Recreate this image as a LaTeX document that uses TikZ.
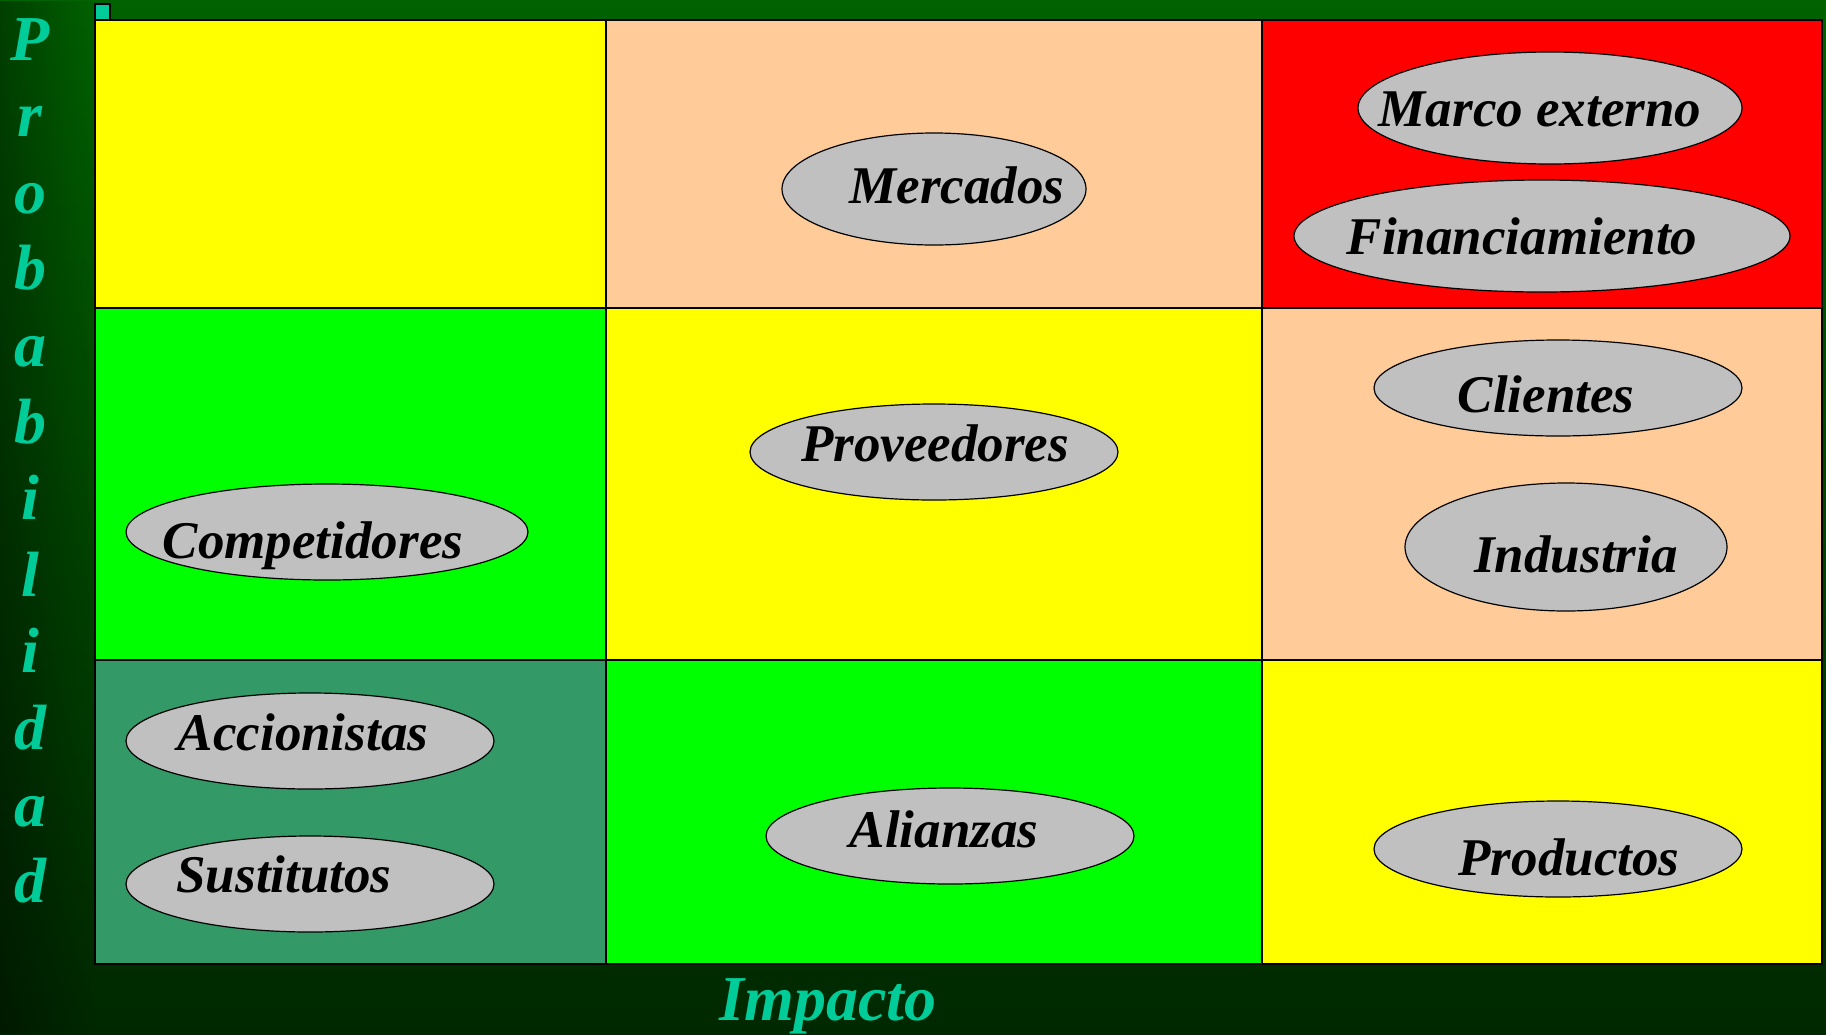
\documentclass[tikz,border=0pt]{standalone}
\usepackage{fontspec}
\setmainfont{Liberation Serif}
\usetikzlibrary{shapes.geometric,fadings}
\definecolor{bgtop}{RGB}{0,98,0}
\definecolor{bgbot}{RGB}{0,40,0}
\definecolor{axisteal}{RGB}{0,204,153}
\definecolor{peach}{RGB}{255,204,153}
\definecolor{seagreen}{RGB}{51,153,102}
\definecolor{riskgray}{RGB}{192,192,192}
\definecolor{riskyellow}{RGB}{255,255,0}
\definecolor{riskgreen}{RGB}{0,255,0}
\definecolor{riskred}{RGB}{255,0,0}
\tikzset{
  cell/.style={draw=black, line width=0.8pt},
  risk/.style={ellipse, draw=black, fill=riskgray, line width=0.6pt, inner sep=0pt},
  risklabel/.style={font=\fontsize{26.5}{30}\selectfont\bfseries\itshape, text height=1.32em, text depth=0pt, inner sep=0pt},
  axislabel/.style={font=\fontsize{32}{36}\selectfont\bfseries\itshape, text=axisteal, inner sep=0pt}
}
\begin{document}
\begin{tikzpicture}[x=0.5pt, y=-0.5pt]
  \useasboundingbox (0,0) rectangle (1826,1034);
  % background
  \shade[top color=bgtop, bottom color=bgbot] (0,0) rectangle (1826,1034);
  \fill[black, opacity=0.35, path fading=east] (0,0) rectangle (95,1034);
  \draw[fill=axisteal, line width=0.8pt] (95,4) rectangle (110,20);
  % matrix cells
  \fill[cell, fill=riskyellow] (95,20) rectangle (606,308);
  \fill[cell, fill=peach] (606,20) rectangle (1262,308);
  \fill[cell, fill=riskred] (1262,20) rectangle (1822,308);
  \fill[cell, fill=riskgreen] (95,308) rectangle (606,660);
  \fill[cell, fill=riskyellow] (606,308) rectangle (1262,660);
  \fill[cell, fill=peach] (1262,308) rectangle (1822,660);
  \fill[cell, fill=seagreen] (95,660) rectangle (606,964);
  \fill[cell, fill=riskgreen] (606,660) rectangle (1262,964);
  \fill[cell, fill=riskyellow] (1262,660) rectangle (1822,964);
  % axes
  \foreach \l [count=\i from 0] in {P,r,o,b,a,b,i,l,i,d,a,d}
    \node[axislabel, anchor=base] (prob\i) at (30,60+\i*76.6) {\l};
  \node[axislabel, anchor=base] (impacto) at (828,1020) {Impacto};
  % risks
  \node[risk, minimum width=152pt, minimum height=56pt] (mercados) at (934,189) {};
  \node[risklabel] (mercadosT) at (957,190) {Mercados};
  \node[risk, minimum width=192pt, minimum height=56pt] (marco) at (1550,108) {};
  \node[risklabel] (marcoT) at (1540,113) {Marco externo};
  \node[risk, minimum width=248pt, minimum height=56pt] (financ) at (1542,236) {};
  \node[risklabel] (financT) at (1522,241) {Financiamiento};
  \node[risk, minimum width=184pt, minimum height=48pt] (proveed) at (934,452) {};
  \node[risklabel] (proveedT) at (935,448) {Proveedores};
  \node[risk, minimum width=184pt, minimum height=48pt] (clientes) at (1558,388) {};
  \node[risklabel] (clientesT) at (1546,399) {Clientes};
  \node[risk, minimum width=161pt, minimum height=64pt] (industria) at (1566,547) {};
  \node[risklabel] (industriaT) at (1576,559) {Industria};
  \node[risk, minimum width=201pt, minimum height=48pt] (compet) at (327,532) {};
  \node[risklabel] (competT) at (313,545) {Competidores};
  \node[risk, minimum width=184pt, minimum height=48pt] (accion) at (310,741) {};
  \node[risklabel] (accionT) at (303,737) {Accionistas};
  \node[risk, minimum width=184pt, minimum height=48pt] (sustit) at (310,884) {};
  \node[risklabel] (sustitT) at (284,879) {Sustitutos};
  \node[risk, minimum width=184pt, minimum height=48pt] (alianzas) at (950,836) {};
  \node[risklabel] (alianzasT) at (944,834) {Alianzas};
  \node[risk, minimum width=184pt, minimum height=48pt] (productos) at (1558,849) {};
  \node[risklabel] (productosT) at (1569,862) {Productos};
\end{tikzpicture}
\end{document}
